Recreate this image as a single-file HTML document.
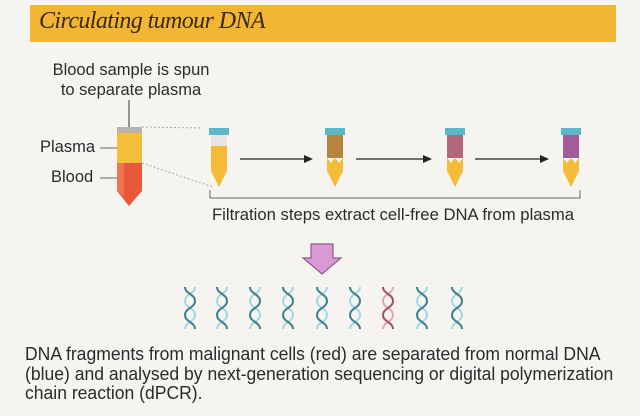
<!DOCTYPE html>
<html><head><meta charset="utf-8"><style>
html,body{margin:0;padding:0;background:#f6f4f1;}
body{width:640px;height:416px;overflow:hidden;position:relative;font-family:"Liberation Sans",sans-serif;color:#2b2b2b;}
.t{position:absolute;white-space:nowrap;}
</style></head><body>
<svg width="640" height="416" style="position:absolute;left:0;top:0">
<defs>
<symbol id="hb" overflow="visible">
<path d="M5 0 C5 7 -5 7 -5 14 C-5 21 5 21 5 28 C5 35 -5 35 -5 42" fill="none" stroke="#a6d8e3" stroke-width="2"/>
<path d="M-5 0 C-5 7 5 7 5 14 C5 21 -5 21 -5 28 C-5 35 5 35 5 42" fill="none" stroke="#3f7f8c" stroke-width="2"/>
</symbol>
<symbol id="hr" overflow="visible">
<path d="M5 0 C5 7 -5 7 -5 14 C-5 21 5 21 5 28 C5 35 -5 35 -5 42" fill="none" stroke="#e3a9b4" stroke-width="2"/>
<path d="M-5 0 C-5 7 5 7 5 14 C5 21 -5 21 -5 28 C-5 35 5 35 5 42" fill="none" stroke="#a05060" stroke-width="2"/>
</symbol>
</defs>
<rect x="30" y="5" width="586" height="37" fill="#f2b634"/>
<line x1="129" y1="100" x2="129" y2="141" stroke="#333" stroke-width="1"/>
<circle cx="129" cy="141" r="1.8" fill="#222"/>
<rect x="117" y="127" width="25" height="6" fill="#b8b3ad"/>
<rect x="117" y="133" width="25" height="30" fill="#f5be3a"/>
<path d="M117 163 H142 V191 L129 206 L117 191 Z" fill="#e9583a"/>
<path d="M117 163 H124 V197 L117 191 Z" fill="#ef7454"/>
<line x1="100" y1="148" x2="117" y2="148" stroke="#666"/>
<line x1="100" y1="178" x2="117" y2="178" stroke="#666"/>
<line x1="142" y1="127" x2="203" y2="128" stroke="#aaa" stroke-dasharray="2 2"/>
<line x1="142" y1="163" x2="213" y2="187" stroke="#aaa" stroke-dasharray="2 2"/>
<g><rect x="209" y="128" width="20" height="7" fill="#5bb8c9"/><rect x="211" y="135" width="16" height="11" fill="#e8e4e0"/><path d="M211 146 H227 V171 L219 187 L211 171 Z" fill="#f4bb38"/></g>
<g><rect x="325" y="128" width="20" height="7" fill="#5bb8c9"/><rect x="327" y="135" width="16" height="23" fill="#b7833f"/><path d="M327 158 L331 163 L335 158 L339 163 L343 158 V171 L335 187 L327 171 Z" fill="#f4bb38"/></g>
<g><rect x="445" y="128" width="20" height="7" fill="#5bb8c9"/><rect x="447" y="135" width="16" height="23" fill="#b4667c"/><path d="M447 158 L451 163 L455 158 L459 163 L463 158 V171 L455 187 L447 171 Z" fill="#f4bb38"/></g>
<g><rect x="561" y="128" width="20" height="7" fill="#5bb8c9"/><rect x="563" y="135" width="16" height="23" fill="#a45c98"/><path d="M563 158 L567 163 L571 158 L575 163 L579 158 V171 L571 187 L563 171 Z" fill="#f4bb38"/></g>
<g stroke="#222" stroke-width="1.3" fill="#222">
<line x1="240" y1="159" x2="306" y2="159"/><path d="M313 159 L304 155 L304 163Z" stroke="none"/>
<line x1="356" y1="159" x2="425" y2="159"/><path d="M432 159 L423 155 L423 163Z" stroke="none"/>
<line x1="475" y1="159" x2="542" y2="159"/><path d="M549 159 L540 155 L540 163Z" stroke="none"/>
</g>
<path d="M210 190 V198 H580 V190" fill="none" stroke="#666"/>
<path d="M311 244 H333 V258 H341 L322 274 L303 258 H311 Z" fill="#d99ad4" stroke="#8e5a8c" stroke-width="1.2"/>
<use href="#hb" x="190" y="287"/><use href="#hb" x="222" y="287"/><use href="#hb" x="255" y="287"/>
<use href="#hb" x="288" y="287"/><use href="#hb" x="322" y="287"/><use href="#hb" x="355" y="287"/>
<use href="#hr" x="388" y="287"/><use href="#hb" x="422" y="287"/><use href="#hb" x="457" y="287"/>
</svg>
<div class="t" style="left:39px;top:8px;font-family:'Liberation Serif',serif;font-style:italic;font-size:24px;color:#3a2a10;letter-spacing:-0.6px">Circulating tumour DNA</div>
<div class="t" style="left:40px;top:60px;font-size:16.5px;line-height:20px;text-align:center;width:182px">Blood sample is spun<br>to separate plasma</div>
<div class="t" style="left:40px;top:138px;font-size:16.5px">Plasma</div>
<div class="t" style="left:51px;top:168px;font-size:16.5px">Blood</div>
<div class="t" style="left:212px;top:205px;font-size:17px;transform:scaleX(0.98);transform-origin:0 0">Filtration steps extract cell-free DNA from plasma</div>
<div class="t" style="left:25px;top:345px;font-size:18px;line-height:19.5px;transform:scaleX(0.975);transform-origin:0 0">DNA fragments from malignant cells (red) are separated from normal DNA<br>(blue) and analysed by next-generation sequencing or digital polymerization<br>chain reaction (dPCR).</div>
</body></html>
